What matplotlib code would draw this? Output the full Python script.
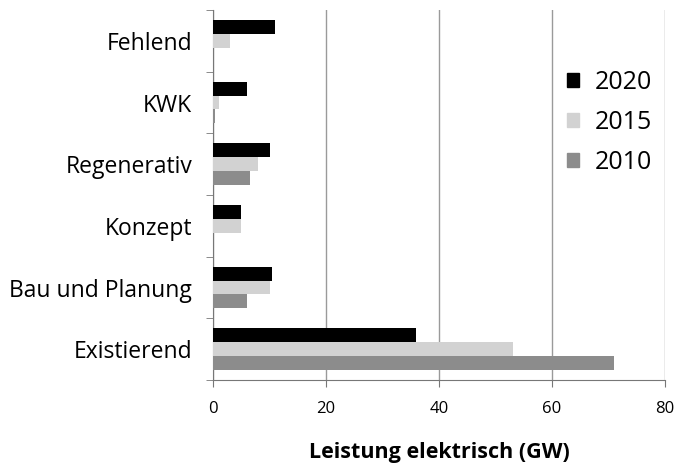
import numpy as np
import matplotlib
matplotlib.use("Agg")
from matplotlib import pyplot as plt
from matplotlib.patches import Patch

categories = ['Existierend', 'Bau und Planung', 'Konzept', 'Regenerativ', 'KWK', 'Fehlend']
years = ['2020', '2015', '2010']
v2020 = [36, 10.5, 5, 10, 6, 11]
v2015 = [53, 10, 5, 8, 1, 3]
v2010 = [71, 6, 0, 6.5, 0.3, 0]
colors = ['#000000', '#d2d2d2', '#8c8c8c']

plt.rcParams['font.family'] = ['Open Sans', 'DejaVu Sans']

fig = plt.figure(figsize=(6.75, 4.66), dpi=100)
ax = fig.add_axes([0.3156, 0.1845, 0.6697, 0.794])

y = np.arange(len(categories))
h = 0.225
for i, (vals, c) in enumerate(zip([v2020, v2015, v2010], colors)):
    ax.barh(y + h - i * h, vals, height=h, color=c, zorder=3)

ax.set_xlim(0, 80)
ax.set_ylim(-0.5, len(categories) - 0.5)
ax.set_xticks([0, 20, 40, 60, 80])
ax.xaxis.grid(True, color='#9a9a9a', linewidth=1, zorder=0)
ax.set_yticks(y)
ax.set_yticklabels(categories, fontsize=16.5)
ax.tick_params(axis='y', length=0, pad=15)
ax.set_yticks(np.arange(-0.5, len(categories)), minor=True)
ax.tick_params(axis='y', which='minor', length=5, color='#777777')
ax.tick_params(axis='x', length=5, color='#777777', labelsize=12, pad=10)
for s in ['top', 'right']:
    ax.spines[s].set_visible(False)
ax.spines['left'].set_color('#777777')
ax.spines['bottom'].set_color('#777777')

ax.set_xlabel('Leistung elektrisch (GW)', fontsize=15.5, fontweight='bold', labelpad=18)

handles = [Patch(color=c, label=yr) for c, yr in zip(colors, years)]
ax.legend(handles=handles, loc='upper right', bbox_to_anchor=(1.02, 0.9), frameon=False,
          fontsize=18, handlelength=0.5, handleheight=0.5, labelspacing=0.6, handletextpad=0.6)

fig.savefig('out.png', dpi=100)
